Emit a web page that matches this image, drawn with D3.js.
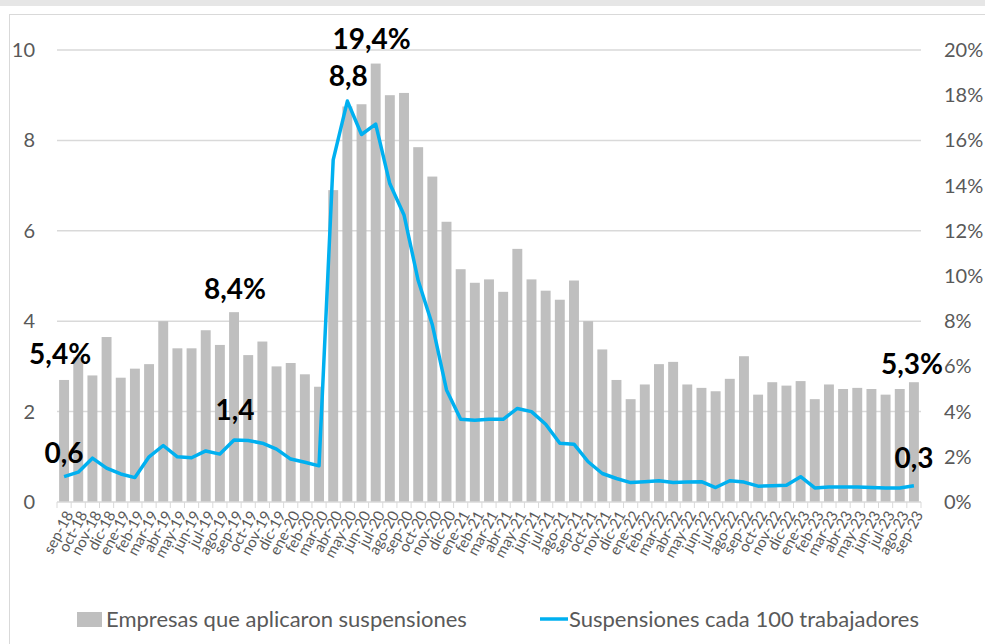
<!DOCTYPE html>
<html>
<head>
<meta charset="utf-8">
<script src="https://d3js.org/d3.v7.min.js"></script>
<style>
  body { margin: 0; background: #ffffff; }
  text { font-family: Lato, "Open Sans", sans-serif; }
</style>
</head>
<body>
<svg id="drawing_region"></svg>
<script>
const months = [
  'sep-18','oct-18','nov-18','dic-18','ene-19','feb-19','mar-19','abr-19','may-19','jun-19','jul-19','ago-19',
  'sep-19','oct-19','nov-19','dic-19','ene-20','feb-20','mar-20','abr-20','may-20','jun-20','jul-20','ago-20',
  'sep-20','oct-20','nov-20','dic-20','ene-21','feb-21','mar-21','abr-21','may-21','jun-21','jul-21','ago-21',
  'sep-21','oct-21','nov-21','dic-21','ene-22','feb-22','mar-22','abr-22','may-22','jun-22','jul-22','ago-22',
  'sep-22','oct-22','nov-22','dic-22','ene-23','feb-23','mar-23','abr-23','may-23','jun-23','jul-23','ago-23',
  'sep-23'
];

// % de empresas que aplicaron suspensiones (eje derecho)
const empresas = [
  5.4, 6.4, 5.6, 7.3, 5.5, 5.9, 6.1, 8.0, 6.8, 6.8, 7.6, 6.95,
  8.4, 6.5, 7.1, 6.0, 6.15, 5.65, 5.1, 13.8, 17.5, 17.6, 19.4, 18.0,
  18.1, 15.7, 14.4, 12.4, 10.3, 9.7, 9.85, 9.3, 11.2, 9.85, 9.35, 8.95,
  9.8, 8.0, 6.75, 5.4, 4.55, 5.2, 6.1, 6.2, 5.2, 5.05, 4.9, 5.45,
  6.45, 4.75, 5.3, 5.15, 5.35, 4.55, 5.2, 5.0, 5.05, 5.0, 4.75, 5.0,
  5.3
];

// suspensiones cada 100 trabajadores (eje izquierdo)
const suspensiones = [
  0.56, 0.66, 0.97, 0.75, 0.62, 0.54, 1.0, 1.25, 1.0, 0.98, 1.13, 1.06,
  1.37, 1.36, 1.3, 1.17, 0.95, 0.88, 0.8, 7.57, 8.87, 8.13, 8.36, 7.04,
  6.35, 4.9, 3.92, 2.48, 1.83, 1.81, 1.83, 1.83, 2.07, 2.0, 1.72, 1.3,
  1.28, 0.89, 0.63, 0.52, 0.43, 0.45, 0.47, 0.43, 0.44, 0.45, 0.32, 0.47,
  0.44, 0.35, 0.36, 0.37, 0.56, 0.31, 0.33, 0.33, 0.33, 0.32, 0.31, 0.31,
  0.36
];

const leftTicks = [0, 2, 4, 6, 8, 10];
const rightTicks = [0, 2, 4, 6, 8, 10, 12, 14, 16, 18, 20];

// etiquetas destacadas: serie, indice, texto
const notes = [
  { series: 'bar',  i: 0,  text: '5,4%',  dx: -4, dy: -16 },
  { series: 'line', i: 0,  text: '0,6',   dx: 0,  dy: -14 },
  { series: 'bar',  i: 12, text: '8,4%',  dx: 1,  dy: -13 },
  { series: 'line', i: 12, text: '1,4',   dx: 1,  dy: -20 },
  { series: 'bar',  i: 22, text: '19,4%', dx: -4, dy: -15 },
  { series: 'line', i: 20, text: '8,8',   dx: 1,  dy: -15 },
  { series: 'bar',  i: 60, text: '5,3%',  dx: -2, dy: -8 },
  { series: 'line', i: 60, text: '0,3',   dx: 0,  dy: -18 }
];

class ComboChart {
  constructor( config ) {
    this.config = {
      parent: config.parent,
      width: config.width || 985,
      height: config.height || 644,
      margin: config.margin || { left: 57, right: 64, top: 50, bottom: 142 }
    };
    this.init();
  }

  init() {
    let self = this;
    const m = self.config.margin;

    self.svg = d3.select( self.config.parent )
      .attr('width', self.config.width)
      .attr('height', self.config.height);

    // marco gris
    self.svg.append('rect')
      .attr('x', 0).attr('y', 0)
      .attr('width', self.config.width).attr('height', 6)
      .attr('fill', '#e6e6e6');
    self.svg.append('rect')
      .attr('x', 9.5).attr('y', 14.5)
      .attr('width', self.config.width).attr('height', self.config.height)
      .attr('fill', 'none')
      .attr('stroke', '#d9d9d9');

    self.inner_width = self.config.width - m.left - m.right;
    self.inner_height = self.config.height - m.top - m.bottom;

    self.chart = self.svg.append('g')
      .attr('transform', `translate(${m.left}, ${m.top})`);

    self.xscale = d3.scaleBand()
      .domain( months )
      .range([0, self.inner_width])
      .paddingInner(0.3)
      .paddingOuter(0.15);

    self.yleft = d3.scaleLinear()
      .domain([0, 10])
      .range([self.inner_height, 0]);

    self.yright = d3.scaleLinear()
      .domain([0, 20])
      .range([self.inner_height, 0]);
  }

  render() {
    let self = this;
    const h = self.inner_height;
    const bw = self.xscale.step();
    const cx = i => self.xscale(months[i]) + self.xscale.bandwidth() / 2;

    // cuadricula
    self.chart.selectAll('.grid')
      .data( leftTicks.filter(d => d > 0) )
      .enter()
      .append('line')
      .attr('x1', 0).attr('x2', self.inner_width)
      .attr('y1', d => self.yleft(d)).attr('y2', d => self.yleft(d))
      .attr('stroke', '#d9d9d9')
      .attr('stroke-width', 1.5);

    // barras
    self.chart.selectAll('.bar')
      .data( empresas )
      .enter()
      .append('rect')
      .attr('x', (d, i) => self.xscale(months[i]))
      .attr('y', d => self.yright(d))
      .attr('width', self.xscale.bandwidth())
      .attr('height', d => h - self.yright(d))
      .attr('fill', '#bfbfbf');

    // eje x
    self.chart.append('line')
      .attr('x1', 0).attr('x2', self.inner_width)
      .attr('y1', h).attr('y2', h)
      .attr('stroke', '#d9d9d9')
      .attr('stroke-width', 1.5);
    self.chart.selectAll('.xtick')
      .data( d3.range(months.length + 1) )
      .enter()
      .append('line')
      .attr('x1', i => i * bw).attr('x2', i => i * bw)
      .attr('y1', h).attr('y2', h + 6)
      .attr('stroke', '#d9d9d9');
    self.chart.selectAll('.xlabel')
      .data( months )
      .enter()
      .append('text')
      .attr('transform', (d, i) => `translate(${cx(i) + 5}, ${h + 10}) rotate(-62)`)
      .attr('text-anchor', 'end')
      .attr('dy', '0.35em')
      .attr('font-size', '15px')
      .attr('fill', '#595959')
      .text( d => d );

    // ejes y
    self.chart.selectAll('.ylabel')
      .data( leftTicks )
      .enter()
      .append('text')
      .attr('x', -22)
      .attr('y', d => self.yleft(d))
      .attr('dy', '0.35em')
      .attr('text-anchor', 'end')
      .attr('font-size', '20px')
      .attr('fill', '#595959')
      .text( d => d );

    self.chart.selectAll('.yrlabel')
      .data( rightTicks )
      .enter()
      .append('text')
      .attr('x', self.inner_width + 23)
      .attr('y', d => self.yright(d))
      .attr('dy', '0.35em')
      .attr('text-anchor', 'start')
      .attr('font-size', '20px')
      .attr('fill', '#595959')
      .text( d => d + '%' );

    // linea
    const line = d3.line()
      .x( (d, i) => cx(i) )
      .y( d => self.yleft(d) );

    self.chart.append('path')
      .datum( suspensiones )
      .attr('d', line)
      .attr('fill', 'none')
      .attr('stroke', '#00b0f0')
      .attr('stroke-width', 3.5)
      .attr('stroke-linejoin', 'round');

    // etiquetas
    self.chart.selectAll('.note')
      .data( notes )
      .enter()
      .append('text')
      .attr('x', d => cx(d.i) + d.dx)
      .attr('y', d => (d.series === 'bar' ? self.yright(empresas[d.i]) : self.yleft(suspensiones[d.i])) + d.dy)
      .attr('text-anchor', 'middle')
      .attr('font-size', '28px')
      .attr('font-weight', 'bold')
      .attr('fill', '#000000')
      .text( d => d.text );

    // leyenda
    const legend = self.svg.append('g');
    legend.append('rect')
      .attr('x', 77).attr('y', 612)
      .attr('width', 25).attr('height', 15)
      .attr('fill', '#bfbfbf');
    legend.append('text')
      .attr('x', 106).attr('y', 619)
      .attr('dy', '0.35em')
      .attr('font-size', '22px')
      .attr('fill', '#595959')
      .text('Empresas que aplicaron suspensiones');
    legend.append('line')
      .attr('x1', 540).attr('x2', 568)
      .attr('y1', 619).attr('y2', 619)
      .attr('stroke', '#00b0f0')
      .attr('stroke-width', 3.5);
    legend.append('text')
      .attr('x', 569).attr('y', 619)
      .attr('dy', '0.35em')
      .attr('font-size', '22px')
      .attr('fill', '#595959')
      .text('Suspensiones cada 100 trabajadores');
  }
}

const chart = new ComboChart({ parent: '#drawing_region', width: 985, height: 644 });
chart.render();
</script>
</body>
</html>
